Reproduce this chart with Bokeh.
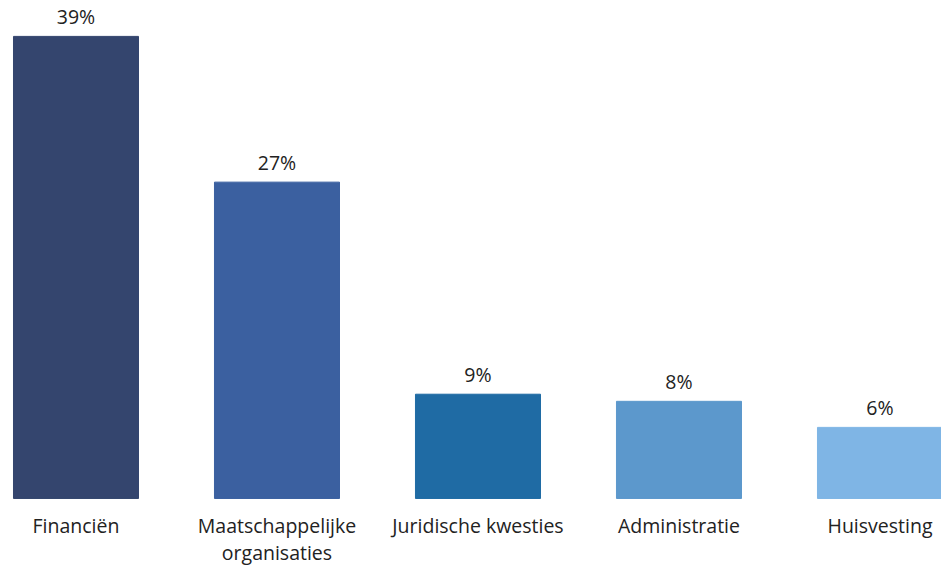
from bokeh.plotting import figure
from bokeh.models import ColumnDataSource, Range1d
from bokeh.core.properties import value
from bokeh.embed import file_html
from bokeh.resources import INLINE

categories = ["Financiën", "Maatschappelijke\norganisaties", "Juridische kwesties", "Administratie", "Huisvesting"]
values = [39.0, 26.7, 8.8, 8.2, 6.0]
value_labels = ["39%", "27%", "9%", "8%", "6%"]
colors = ["#34456E", "#3B60A0", "#1F6BA4", "#5C98CC", "#7FB5E5"]

x = list(range(len(categories)))
src = ColumnDataSource(dict(x=x, top=values, color=colors, cat=categories,
                            lab=value_labels, zero=[0] * len(x)))

p = figure(width=941, height=568, output_backend="svg", toolbar_location=None,
           x_range=Range1d(-0.3756, 4.306), y_range=Range1d(-5.91, 42.03),
           min_border=0, min_border_left=0, min_border_right=0,
           min_border_top=0, min_border_bottom=0)
p.xaxis.visible = False
p.yaxis.visible = False
p.xgrid.visible = False
p.ygrid.visible = False
p.outline_line_color = None
p.background_fill_color = "white"
p.border_fill_color = "white"

p.vbar(x="x", top="top", bottom=0, width=0.622, color="color", source=src)

p.text(x="x", y="top", text="lab", source=src, text_align="center",
       text_baseline="alphabetic", y_offset=-20, text_font=value("Open Sans"),
       text_font_size="19.5px", text_color="#222222")

p.text(x="x", y="zero", text="cat", source=src, text_align="center",
       text_baseline="top", y_offset=14, text_font=value("Open Sans"),
       text_font_size="19.5px", text_color="#222222", text_line_height=1.0)

open("out.html", "w").write(file_html(p, INLINE))
